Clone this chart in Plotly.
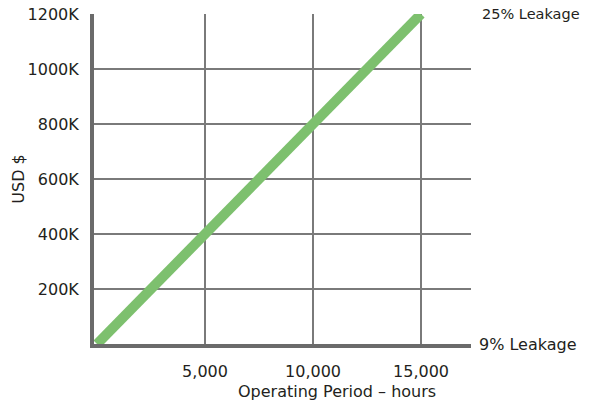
import plotly.graph_objects as go

hours = [0, 5000, 10000, 15000]
usd_k = [0, 400, 800, 1200]
x_ticks = [5000, 10000, 15000]
x_tick_labels = ["5,000", "10,000", "15,000"]
y_ticks = [200, 400, 600, 800, 1000, 1200]
y_tick_labels = ["200K", "400K", "600K", "800K", "1000K", "1200K"]
right_labels = ["25% Leakage", "9% Leakage"]
right_label_y = [1200, 0]

FONT = "DejaVu Sans, Liberation Sans, Arial, sans-serif"
TXT = "#231f20"

fig = go.Figure()
fig.add_trace(go.Scatter(
    x=hours, y=usd_k, mode="lines",
    line=dict(color="#7dc06e", width=10),
    cliponaxis=False, hoverinfo="skip", showlegend=False,
))

fig.update_layout(
    width=592, height=404,
    margin=dict(l=94, r=121, t=14, b=60),
    paper_bgcolor="white", plot_bgcolor="white",
    font=dict(family=FONT, size=16, color=TXT),
    showlegend=False,
    xaxis=dict(
        range=[-140, 17315], tickvals=x_ticks, ticktext=x_tick_labels,
        showgrid=True, gridcolor="#7a7a7a", gridwidth=1.5,
        showline=True, linecolor="#6b6b6b", linewidth=4,
        ticks="", ticklabelstandoff=10, zeroline=False, automargin=False,
        tickfont=dict(size=16),
    ),
    yaxis=dict(
        range=[0, 1200], tickvals=y_ticks, ticktext=y_tick_labels,
        showgrid=True, gridcolor="#7a7a7a", gridwidth=1.5,
        showline=True, linecolor="#6b6b6b", linewidth=4,
        ticks="", ticklabelstandoff=8, zeroline=False, automargin=False,
        tickfont=dict(size=16),
        title=dict(text="USD $", font=dict(size=16), standoff=0),
    ),
)

fig.add_annotation(
    text="Operating Period \u2013 hours", xref="paper", yref="paper",
    x=(337 - 94) / (592 - 94 - 121), y=0, yshift=-47,
    xanchor="center", yanchor="middle", showarrow=False,
    font=dict(size=16, color=TXT),
)
sizes = [14.5, 16]
shifts = [9, 6]
for lab, yv, sz, sh in zip(right_labels, right_label_y, sizes, shifts):
    fig.add_annotation(
        text=lab, xref="paper", yref="y", x=1, y=yv, xshift=sh,
        xanchor="left", yanchor="middle", showarrow=False,
        font=dict(size=sz, color=TXT),
    )

fig.write_html("out.html", config={"displayModeBar": False},
               post_script="document.body.style.margin='0';")
